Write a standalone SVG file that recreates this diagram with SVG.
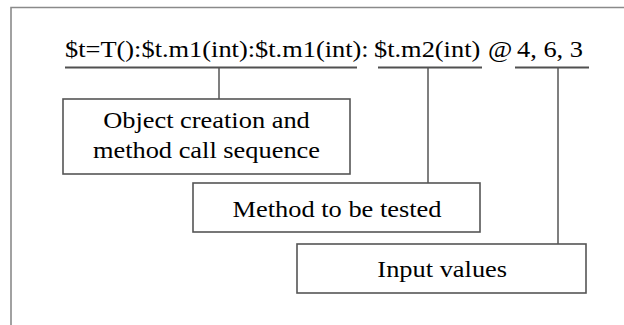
<svg xmlns="http://www.w3.org/2000/svg" width="624" height="325" viewBox="0 0 624 325">
<style>
.frame{fill:none;stroke:#8a8a8a;stroke-width:1.6}
.box{fill:#fff;stroke:#555;stroke-width:1.6}
.ul{stroke:#505050;stroke-width:1.8;fill:none}
.con{stroke:#555;stroke-width:1.5;fill:none}
.t{font-family:"Liberation Serif","Times New Roman",serif;font-size:24px;fill:#000}
</style>
<rect width="624" height="325" fill="#fff"/>
<path class="frame" d="M11,325 V7.5 H624"/>
<g id="expression">
<text class="t" transform="scale(1.1 1)" y="57"><tspan x="59.1">$t=T():$t.m1(int):$t.m1(int):</tspan><tspan x="340">$t.m2(int)</tspan><tspan x="443.6">@</tspan><tspan x="470">4, 6, 3</tspan></text>
<path class="ul" d="M65,67.5 H357 M378,67.5 H482 M515,67.5 H589"/>
</g>
<g id="connectors">
<path class="con" d="M219,67.5 V99"/>
<path class="con" d="M428,67.5 V183"/>
<path class="con" d="M558,67.5 V244"/>
</g>
<g id="node-sequence">
<rect class="box" x="63" y="99" width="287" height="75"/>
<text class="t" text-anchor="middle" transform="scale(1.1 1)" y="128"><tspan x="187.7">Object creation and</tspan><tspan x="187.7" dy="30">method call sequence</tspan></text>
</g>
<g id="node-method">
<rect class="box" x="193" y="183" width="287" height="49"/>
<text class="t" text-anchor="middle" transform="scale(1.1 1)" x="306.4" y="217">Method to be tested</text>
</g>
<g id="node-input">
<rect class="box" x="297" y="244" width="289" height="49"/>
<text class="t" text-anchor="middle" transform="scale(1.1 1)" x="402" y="277">Input values</text>
</g>
</svg>
